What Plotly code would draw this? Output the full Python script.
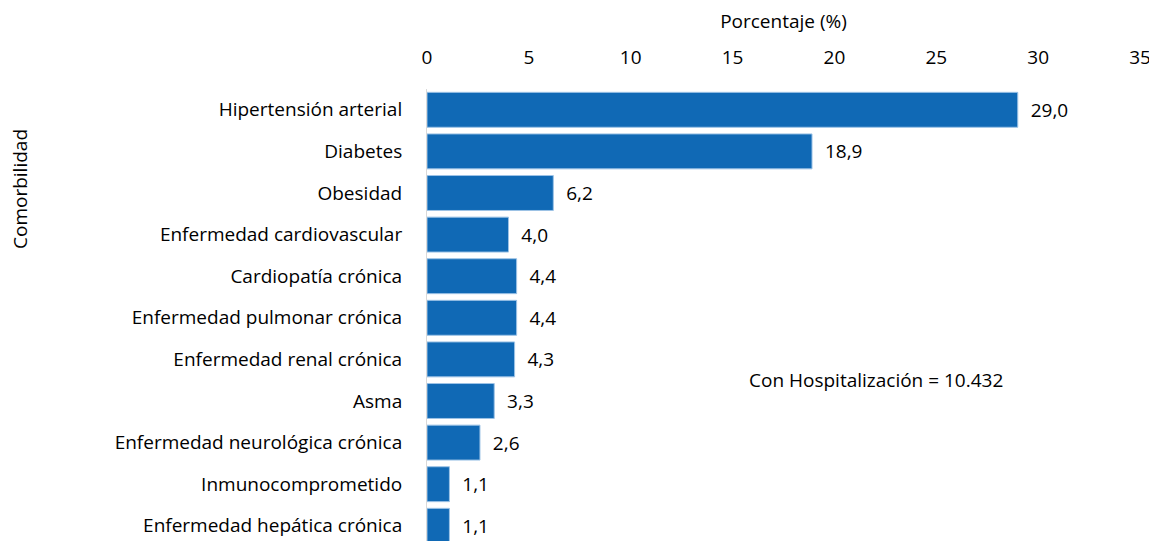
import plotly.graph_objects as go

# Data
comorbilidades = [
    "Hipertensión arterial",
    "Diabetes",
    "Obesidad",
    "Enfermedad cardiovascular",
    "Cardiopatía crónica",
    "Enfermedad pulmonar crónica",
    "Enfermedad renal crónica",
    "Asma",
    "Enfermedad neurológica crónica",
    "Inmunocomprometido",
    "Enfermedad hepática crónica",
]
porcentajes = [29.0, 18.9, 6.2, 4.0, 4.4, 4.4, 4.3, 3.3, 2.6, 1.1, 1.1]
etiquetas = ["  " + f"{v:.1f}".replace(".", ",") for v in porcentajes]

BLUE = "#1069B5"
FONT = "Open Sans"
FS = 19

# the page body adds an 8px margin, so the figure is drawn 8px in from the window
PAD = 8
WIN_W, WIN_H = 1157, 541
W, H = WIN_W - PAD, WIN_H - PAD
PLOT_X0, PLOT_X1, PLOT_Y0 = 427, 1140, 89   # window pixels
M_L, M_R, M_T, M_B = PLOT_X0 - PAD, WIN_W - PLOT_X1, PLOT_Y0 - PAD, 0
PW, PH = W - M_L - M_R, H - M_T - M_B

# the original crops the last bar at the bottom edge
BAND = 41.6
y_bottom = len(comorbilidades) - 0.5 - (PLOT_Y0 + BAND * len(comorbilidades) - WIN_H) / BAND


def px(x):
    return (x - PLOT_X0) / PW


def py(y):
    return (WIN_H - y) / PH


fig = go.Figure(
    go.Bar(
        x=porcentajes,
        y=comorbilidades,
        orientation="h",
        marker=dict(color=BLUE, line=dict(color="#9DC3E6", width=1)),
        text=etiquetas,
        textposition="outside",
        textfont=dict(size=FS, color="black"),
        cliponaxis=False,
    )
)

fig.update_xaxes(
    side="top",
    range=[0, 35],
    dtick=5,
    automargin=False,
    showgrid=False,
    zeroline=False,
    showline=False,
    ticks="outside",
    ticklen=16,
    tickcolor="rgba(0,0,0,0)",
    tickfont=dict(size=FS, color="black"),
    title=dict(text="Porcentaje (%)", font=dict(size=FS, color="black"), standoff=15),
)
fig.update_yaxes(
    range=[y_bottom, -0.5],
    automargin=False,
    showgrid=False,
    showline=True,
    linecolor="#D9D9D9",
    linewidth=1,
    ticks="outside",
    ticklen=20,
    tickcolor="rgba(0,0,0,0)",
    tickfont=dict(size=FS, color="black"),
)

# y axis title sits above the middle of the plot, as in the original
fig.add_annotation(
    text="Comorbilidad",
    textangle=-90,
    xref="paper",
    yref="paper",
    x=px(20),
    y=py(189),
    xanchor="center",
    yanchor="middle",
    showarrow=False,
    font=dict(size=FS, color="black"),
)
fig.add_annotation(
    text="Con Hospitalización = 10.432",
    xref="paper",
    yref="paper",
    x=px(876),
    y=py(380),
    xanchor="center",
    yanchor="middle",
    showarrow=False,
    font=dict(size=FS, color="black"),
)

fig.update_layout(
    width=W,
    height=H,
    margin=dict(l=M_L, r=M_R, t=M_T, b=M_B, autoexpand=False),
    bargap=0.16,
    showlegend=False,
    font_family=FONT,
    plot_bgcolor="white",
    paper_bgcolor="white",
)

fig.write_html("out.html")
